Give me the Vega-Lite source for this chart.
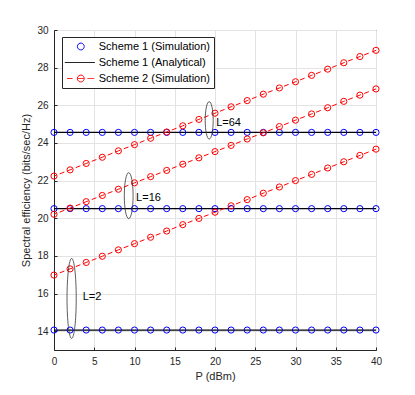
{
  "$schema": "https://vega.github.io/schema/vega-lite/v6.json",
  "width": 322,
  "height": 320,
  "autosize": {"type": "none"},
  "padding": {"left": 54, "top": 30, "right": 39, "bottom": 45},
  "background": "white",
  "datasets": {
    "blue": [
      {"x":0,"y":14.06,"L":"2"},{"x":2,"y":14.06,"L":"2"},{"x":4,"y":14.06,"L":"2"},{"x":6,"y":14.06,"L":"2"},{"x":8,"y":14.06,"L":"2"},{"x":10,"y":14.06,"L":"2"},{"x":12,"y":14.06,"L":"2"},{"x":14,"y":14.06,"L":"2"},{"x":16,"y":14.06,"L":"2"},{"x":18,"y":14.06,"L":"2"},{"x":20,"y":14.06,"L":"2"},{"x":22,"y":14.06,"L":"2"},{"x":24,"y":14.06,"L":"2"},{"x":26,"y":14.06,"L":"2"},{"x":28,"y":14.06,"L":"2"},{"x":30,"y":14.06,"L":"2"},{"x":32,"y":14.06,"L":"2"},{"x":34,"y":14.06,"L":"2"},{"x":36,"y":14.06,"L":"2"},{"x":38,"y":14.06,"L":"2"},{"x":40,"y":14.06,"L":"2"},
      {"x":0,"y":20.51,"L":"16"},{"x":2,"y":20.51,"L":"16"},{"x":4,"y":20.51,"L":"16"},{"x":6,"y":20.51,"L":"16"},{"x":8,"y":20.51,"L":"16"},{"x":10,"y":20.51,"L":"16"},{"x":12,"y":20.51,"L":"16"},{"x":14,"y":20.51,"L":"16"},{"x":16,"y":20.51,"L":"16"},{"x":18,"y":20.51,"L":"16"},{"x":20,"y":20.51,"L":"16"},{"x":22,"y":20.51,"L":"16"},{"x":24,"y":20.51,"L":"16"},{"x":26,"y":20.51,"L":"16"},{"x":28,"y":20.51,"L":"16"},{"x":30,"y":20.51,"L":"16"},{"x":32,"y":20.51,"L":"16"},{"x":34,"y":20.51,"L":"16"},{"x":36,"y":20.51,"L":"16"},{"x":38,"y":20.51,"L":"16"},{"x":40,"y":20.51,"L":"16"},
      {"x":0,"y":24.56,"L":"64"},{"x":2,"y":24.56,"L":"64"},{"x":4,"y":24.56,"L":"64"},{"x":6,"y":24.56,"L":"64"},{"x":8,"y":24.56,"L":"64"},{"x":10,"y":24.56,"L":"64"},{"x":12,"y":24.56,"L":"64"},{"x":14,"y":24.56,"L":"64"},{"x":16,"y":24.56,"L":"64"},{"x":18,"y":24.56,"L":"64"},{"x":20,"y":24.56,"L":"64"},{"x":22,"y":24.56,"L":"64"},{"x":24,"y":24.56,"L":"64"},{"x":26,"y":24.56,"L":"64"},{"x":28,"y":24.56,"L":"64"},{"x":30,"y":24.56,"L":"64"},{"x":32,"y":24.56,"L":"64"},{"x":34,"y":24.56,"L":"64"},{"x":36,"y":24.56,"L":"64"},{"x":38,"y":24.56,"L":"64"},{"x":40,"y":24.56,"L":"64"}
    ],
    "black": [
      {"x":0,"y":14.06,"L":"2"},{"x":40,"y":14.06,"L":"2"},
      {"x":0,"y":20.51,"L":"16"},{"x":40,"y":20.51,"L":"16"},
      {"x":0,"y":24.56,"L":"64"},{"x":40,"y":24.56,"L":"64"}
    ],
    "red": [
      {"x":0,"y":16.98,"L":"2"},{"x":2,"y":17.31,"L":"2"},{"x":4,"y":17.65,"L":"2"},{"x":6,"y":17.98,"L":"2"},{"x":8,"y":18.32,"L":"2"},{"x":10,"y":18.65,"L":"2"},{"x":12,"y":18.99,"L":"2"},{"x":14,"y":19.32,"L":"2"},{"x":16,"y":19.66,"L":"2"},{"x":18,"y":19.99,"L":"2"},{"x":20,"y":20.32,"L":"2"},{"x":22,"y":20.66,"L":"2"},{"x":24,"y":20.99,"L":"2"},{"x":26,"y":21.33,"L":"2"},{"x":28,"y":21.66,"L":"2"},{"x":30,"y":22.0,"L":"2"},{"x":32,"y":22.33,"L":"2"},{"x":34,"y":22.67,"L":"2"},{"x":36,"y":23.0,"L":"2"},{"x":38,"y":23.34,"L":"2"},{"x":40,"y":23.67,"L":"2"},
      {"x":0,"y":20.21,"L":"16"},{"x":2,"y":20.54,"L":"16"},{"x":4,"y":20.88,"L":"16"},{"x":6,"y":21.21,"L":"16"},{"x":8,"y":21.54,"L":"16"},{"x":10,"y":21.88,"L":"16"},{"x":12,"y":22.21,"L":"16"},{"x":14,"y":22.54,"L":"16"},{"x":16,"y":22.87,"L":"16"},{"x":18,"y":23.21,"L":"16"},{"x":20,"y":23.54,"L":"16"},{"x":22,"y":23.87,"L":"16"},{"x":24,"y":24.21,"L":"16"},{"x":26,"y":24.54,"L":"16"},{"x":28,"y":24.87,"L":"16"},{"x":30,"y":25.21,"L":"16"},{"x":32,"y":25.54,"L":"16"},{"x":34,"y":25.87,"L":"16"},{"x":36,"y":26.21,"L":"16"},{"x":38,"y":26.54,"L":"16"},{"x":40,"y":26.87,"L":"16"},
      {"x":0,"y":22.24,"L":"64"},{"x":2,"y":22.57,"L":"64"},{"x":4,"y":22.91,"L":"64"},{"x":6,"y":23.24,"L":"64"},{"x":8,"y":23.58,"L":"64"},{"x":10,"y":23.91,"L":"64"},{"x":12,"y":24.25,"L":"64"},{"x":14,"y":24.58,"L":"64"},{"x":16,"y":24.91,"L":"64"},{"x":18,"y":25.25,"L":"64"},{"x":20,"y":25.58,"L":"64"},{"x":22,"y":25.92,"L":"64"},{"x":24,"y":26.25,"L":"64"},{"x":26,"y":26.59,"L":"64"},{"x":28,"y":26.92,"L":"64"},{"x":30,"y":27.25,"L":"64"},{"x":32,"y":27.59,"L":"64"},{"x":34,"y":27.92,"L":"64"},{"x":36,"y":28.26,"L":"64"},{"x":38,"y":28.59,"L":"64"},{"x":40,"y":28.92,"L":"64"}
    ],
    "ellipses": [
      {"x":2.19,"y":15.74,"L":"2"},
      {"x":9.28,"y":21.2,"L":"16"},
      {"x":19.28,"y":25.2,"L":"64"}
    ],
    "labels": [
      {"x":3.57,"y":15.83,"label":"L=2"},
      {"x":10.2,"y":21.09,"label":"L=16"},
      {"x":20.15,"y":25.04,"label":"L=64"}
    ]
  },
  "encoding": {
    "x": {"field": "x", "type": "quantitative",
      "scale": {"domain": [0, 40], "nice": false, "zero": false},
      "axis": {"title": "P (dBm)", "values": [0,5,10,15,20,25,30,35,40], "tickSize": -3, "labelPadding": 9, "titlePadding": 4, "labelFlush": false, "labelOverlap": false, "grid": true}},
    "y": {"field": "y", "type": "quantitative",
      "scale": {"domain": [13, 30], "nice": false, "zero": false},
      "axis": {"title": "Spectral efficiency (bits/sec/Hz)", "values": [14,16,18,20,22,24,26,28,30], "tickSize": -3, "labelPadding": 9, "titlePadding": 5, "labelOverlap": false, "grid": true}}
  },
  "layer": [
    {
      "data": {"name": "black"},
      "mark": {"type": "line", "strokeWidth": 1.3},
      "encoding": {
        "detail": {"field": "L"},
        "color": {"datum": "Scheme 1 (Analytical)", "type": "nominal",
          "scale": {"domain": ["Scheme 1 (Simulation)", "Scheme 1 (Analytical)", "Scheme 2 (Simulation)"], "range": ["#0000ff", "#000000", "#ff0000"]},
          "legend": {
            "orient": "none", "legendX": 8, "legendY": 7, "title": null,
            "padding": 4, "strokeColor": "#262626", "fillColor": "white",
            "labelFontSize": 11, "labelColor": "#000000", "labelOffset": 21.7,
            "symbolOffset": 0, "symbolSize": 49, "rowPadding": 4, "symbolStrokeWidth": 1,
            "labelLimit": 0,
            "encode": {"symbols": {"update": {
              "shape": {"signal": "datum.value === 'Scheme 1 (Analytical)' ? 'M-1.91,0H6.66' : (datum.value === 'Scheme 2 (Simulation)' ? 'M-1.23,0H0.29M1.69,0H3.63M4.57,0H6.49M2.66,-0.97C3.196,-0.97 3.63,-0.536 3.63,0C3.63,0.536 3.196,0.97 2.66,0.97C2.124,0.97 1.69,0.536 1.69,0C1.69,-0.536 2.124,-0.97 2.66,-0.97Z' : 'M2.66,-0.97C3.196,-0.97 3.63,-0.536 3.63,0C3.63,0.536 3.196,0.97 2.66,0.97C2.124,0.97 1.69,0.536 1.69,0C1.69,-0.536 2.124,-0.97 2.66,-0.97Z')"},
              "fill": {"value": "transparent"},
              "strokeDash": {"value": [1, 0]}
            }}}
          }}
      }
    },
    {
      "data": {"name": "red"},
      "mark": {"type": "line", "strokeWidth": 1, "strokeDash": [5, 3.6], "strokeDashOffset": 2.5},
      "encoding": {
        "detail": {"field": "L"},
        "color": {"datum": "Scheme 2 (Simulation)", "type": "nominal"}
      }
    },
    {
      "data": {"name": "blue"},
      "mark": {"type": "point", "filled": false, "size": 38, "strokeWidth": 1, "opacity": 1},
      "encoding": {
        "color": {"datum": "Scheme 1 (Simulation)", "type": "nominal"}
      }
    },
    {
      "data": {"name": "red"},
      "mark": {"type": "point", "filled": false, "size": 38, "strokeWidth": 1, "opacity": 1},
      "encoding": {
        "color": {"datum": "Scheme 2 (Simulation)", "type": "nominal"}
      }
    },
    {
      "data": {"name": "ellipses"},
      "mark": {"type": "point", "filled": false, "size": 100, "stroke": "#333333", "strokeWidth": 0.8, "opacity": 1},
      "encoding": {
        "shape": {"field": "L", "type": "nominal", "legend": null,
          "scale": {"domain": ["2", "16", "64"], "range": [
            "M0,-8C0.508,-8 0.92,-4.418 0.92,0C0.92,4.418 0.508,8 0,8C-0.508,8 -0.92,4.418 -0.92,0C-0.92,-4.418 -0.508,-8 0,-8Z",
            "M0,-4.6C0.486,-4.6 0.88,-2.541 0.88,0C0.88,2.541 0.486,4.6 0,4.6C-0.486,4.6 -0.88,2.541 -0.88,0C-0.88,-2.541 -0.486,-4.6 0,-4.6Z",
            "M0,-3.74C0.442,-3.74 0.8,-2.066 0.8,0C0.8,2.066 0.442,3.74 0,3.74C-0.442,3.74 -0.8,2.066 -0.8,0C-0.8,-2.066 -0.442,-3.74 0,-3.74Z"
          ]}}
      }
    },
    {
      "data": {"name": "labels"},
      "mark": {"type": "text", "align": "left", "baseline": "middle", "fontSize": 11, "color": "#000000"},
      "encoding": {
        "text": {"field": "label"}
      }
    }
  ],
  "config": {
    "font": "Liberation Sans",
    "view": {"stroke": "#262626", "strokeWidth": 1},
    "axis": {
      "labelFont": "Liberation Sans", "labelFontSize": 10, "labelColor": "#262626",
      "titleFont": "Liberation Sans", "titleFontSize": 11, "titleFontWeight": "normal", "titleColor": "#262626",
      "domainColor": "#262626", "domainWidth": 1, "tickColor": "#262626", "tickWidth": 1,
      "gridColor": "#e3e3e3", "gridWidth": 1
    },
    "legend": {"labelFont": "Liberation Sans"}
  }
}
